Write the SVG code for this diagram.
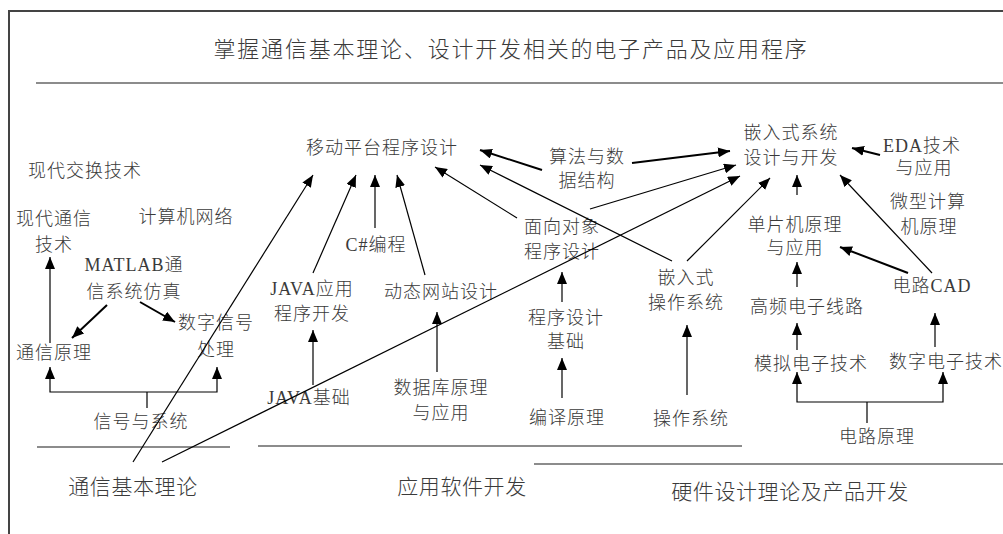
<svg xmlns="http://www.w3.org/2000/svg" width="1003" height="534" viewBox="0 0 1003 534">
<defs>
<marker id="ah" markerUnits="userSpaceOnUse" markerWidth="13" markerHeight="10" refX="12" refY="5" orient="auto">
<path d="M0,0 L12,5 L0,10 z" fill="#000"/>
</marker>
<style>
text{font-family:"Liberation Serif","Noto Sans CJK SC",serif;fill:#3a3a3a;font-weight:300;dominant-baseline:central;text-anchor:middle}
.n{font-size:18px;letter-spacing:1px}
.s{font-size:21px;letter-spacing:0.6px}
.t{font-size:22px;letter-spacing:1.8px}
.c line,.c path{stroke:#000;stroke-width:1.2;fill:none;marker-end:url(#ah)}
.c .b{stroke-width:2}
.c .nm{marker-end:none}
.f{stroke:#444;stroke-width:2;fill:none}
.r{stroke:#666;stroke-width:1.5}
</style>
</defs>
<rect width="1003" height="534" fill="#fff"/>
<path class="f" d="M9,534 V11 H1003"/>
<line class="r" x1="36" y1="83" x2="1003" y2="83"/>
<line class="r" x1="37" y1="447" x2="230" y2="447"/>
<line class="r" x1="258" y1="446" x2="742" y2="446"/>
<line class="r" x1="534" y1="464" x2="1003" y2="464"/>

<g id="title"><text class="t" x="511" y="49">掌握通信基本理论、设计开发相关的电子产品及应用程序</text></g>

<g id="sec-comm"><text class="s" x="133" y="487">通信基本理论</text></g>
<g id="sec-soft"><text class="s" x="462" y="487">应用软件开发</text></g>
<g id="sec-hard"><text class="s" x="790" y="492">硬件设计理论及产品开发</text></g>

<g id="n-xdjh"><text class="n" x="85" y="171">现代交换技术</text></g>
<g id="n-xdtx"><text class="n" x="54" y="219">现代通信</text><text class="n" x="54" y="245">技术</text></g>
<g id="n-jsjwl"><text class="n" x="186" y="217">计算机网络</text></g>
<g id="n-matlab"><text class="n" x="134" y="265">MATLAB通</text><text class="n" x="134" y="292">信系统仿真</text></g>
<g id="n-szxh"><text class="n" x="216" y="323">数字信号</text><text class="n" x="216" y="350">处理</text></g>
<g id="n-txyl"><text class="n" x="54" y="353">通信原理</text></g>
<g id="n-xhxt"><text class="n" x="141" y="422">信号与系统</text></g>

<g id="n-ydpt"><text class="n" x="382" y="148">移动平台程序设计</text></g>
<g id="n-cs"><text class="n" x="376" y="245">C#编程</text></g>
<g id="n-javayy"><text class="n" x="312" y="289">JAVA应用</text><text class="n" x="312" y="314">程序开发</text></g>
<g id="n-dtwz"><text class="n" x="441" y="292">动态网站设计</text></g>
<g id="n-javajc"><text class="n" x="309" y="398">JAVA基础</text></g>
<g id="n-sjk"><text class="n" x="441" y="388">数据库原理</text><text class="n" x="441" y="413">与应用</text></g>
<g id="n-mxdx"><text class="n" x="562" y="227">面向对象</text><text class="n" x="562" y="252">程序设计</text></g>
<g id="n-cxsj"><text class="n" x="566" y="318">程序设计</text><text class="n" x="566" y="342">基础</text></g>
<g id="n-byyl"><text class="n" x="567" y="418">编译原理</text></g>
<g id="n-sf"><text class="n" x="587" y="157">算法与数</text><text class="n" x="587" y="181">据结构</text></g>

<g id="n-qrsxt"><text class="n" x="791" y="133">嵌入式系统</text><text class="n" x="791" y="158">设计与开发</text></g>
<g id="n-eda"><text class="n" x="922" y="146">EDA技术</text><text class="n" x="924" y="168">与应用</text></g>
<g id="n-wx"><text class="n" x="928" y="202">微型计算</text><text class="n" x="929" y="227">机原理</text></g>
<g id="n-dpj"><text class="n" x="795" y="225">单片机原理</text><text class="n" x="795" y="248">与应用</text></g>
<g id="n-qrczxt"><text class="n" x="686" y="278">嵌入式</text><text class="n" x="686" y="303">操作系统</text></g>
<g id="n-gp"><text class="n" x="807" y="307">高频电子线路</text></g>
<g id="n-cad"><text class="n" x="932" y="286">电路CAD</text></g>
<g id="n-mn"><text class="n" x="811" y="364">模拟电子技术</text></g>
<g id="n-sz"><text class="n" x="946" y="362">数字电子技术</text></g>
<g id="n-czxt"><text class="n" x="691" y="419">操作系统</text></g>
<g id="n-dlyl"><text class="n" x="877" y="437">电路原理</text></g>

<g id="connectors" class="c">
<line x1="50" y1="343" x2="50" y2="257"/>
<line class="b" x1="107" y1="305" x2="72" y2="338"/>
<line class="b" x1="140" y1="302" x2="175" y2="322"/>
<path d="M147,392 H50 V367"/>
<path d="M147,392 H217 V367"/>
<path class="nm" d="M147,392 V408"/>
<line x1="133" y1="462" x2="313" y2="175"/>
<line x1="162" y1="462" x2="740" y2="176"/>
<line x1="313" y1="273" x2="356" y2="175"/>
<line x1="375" y1="228" x2="375" y2="175"/>
<line x1="425" y1="275" x2="397" y2="175"/>
<line x1="517" y1="218" x2="435" y2="167"/>
<line class="b" x1="542" y1="170" x2="480" y2="150"/>
<line x1="672" y1="261" x2="480" y2="165"/>
<line class="b" x1="632" y1="163" x2="730" y2="151"/>
<line x1="590" y1="209" x2="736" y2="165"/>
<line x1="687" y1="261" x2="770" y2="178"/>
<line x1="797" y1="195" x2="797" y2="175"/>
<line x1="932" y1="273" x2="840" y2="175"/>
<line class="b" x1="880" y1="155" x2="852" y2="148"/>
<line class="b" x1="908" y1="273" x2="840" y2="247"/>
<line x1="797" y1="287" x2="797" y2="262"/>
<line x1="797" y1="350" x2="797" y2="323"/>
<line x1="935" y1="347" x2="935" y2="313"/>
<line x1="687" y1="395" x2="687" y2="325"/>
<line x1="562" y1="302" x2="562" y2="272"/>
<line x1="562" y1="398" x2="562" y2="358"/>
<line x1="437" y1="372" x2="437" y2="312"/>
<line x1="313" y1="385" x2="313" y2="330"/>
<path d="M867,402 H797 V372"/>
<path d="M867,402 H943 V372"/>
<path class="nm" d="M867,402 V423"/>
</g>
</svg>
